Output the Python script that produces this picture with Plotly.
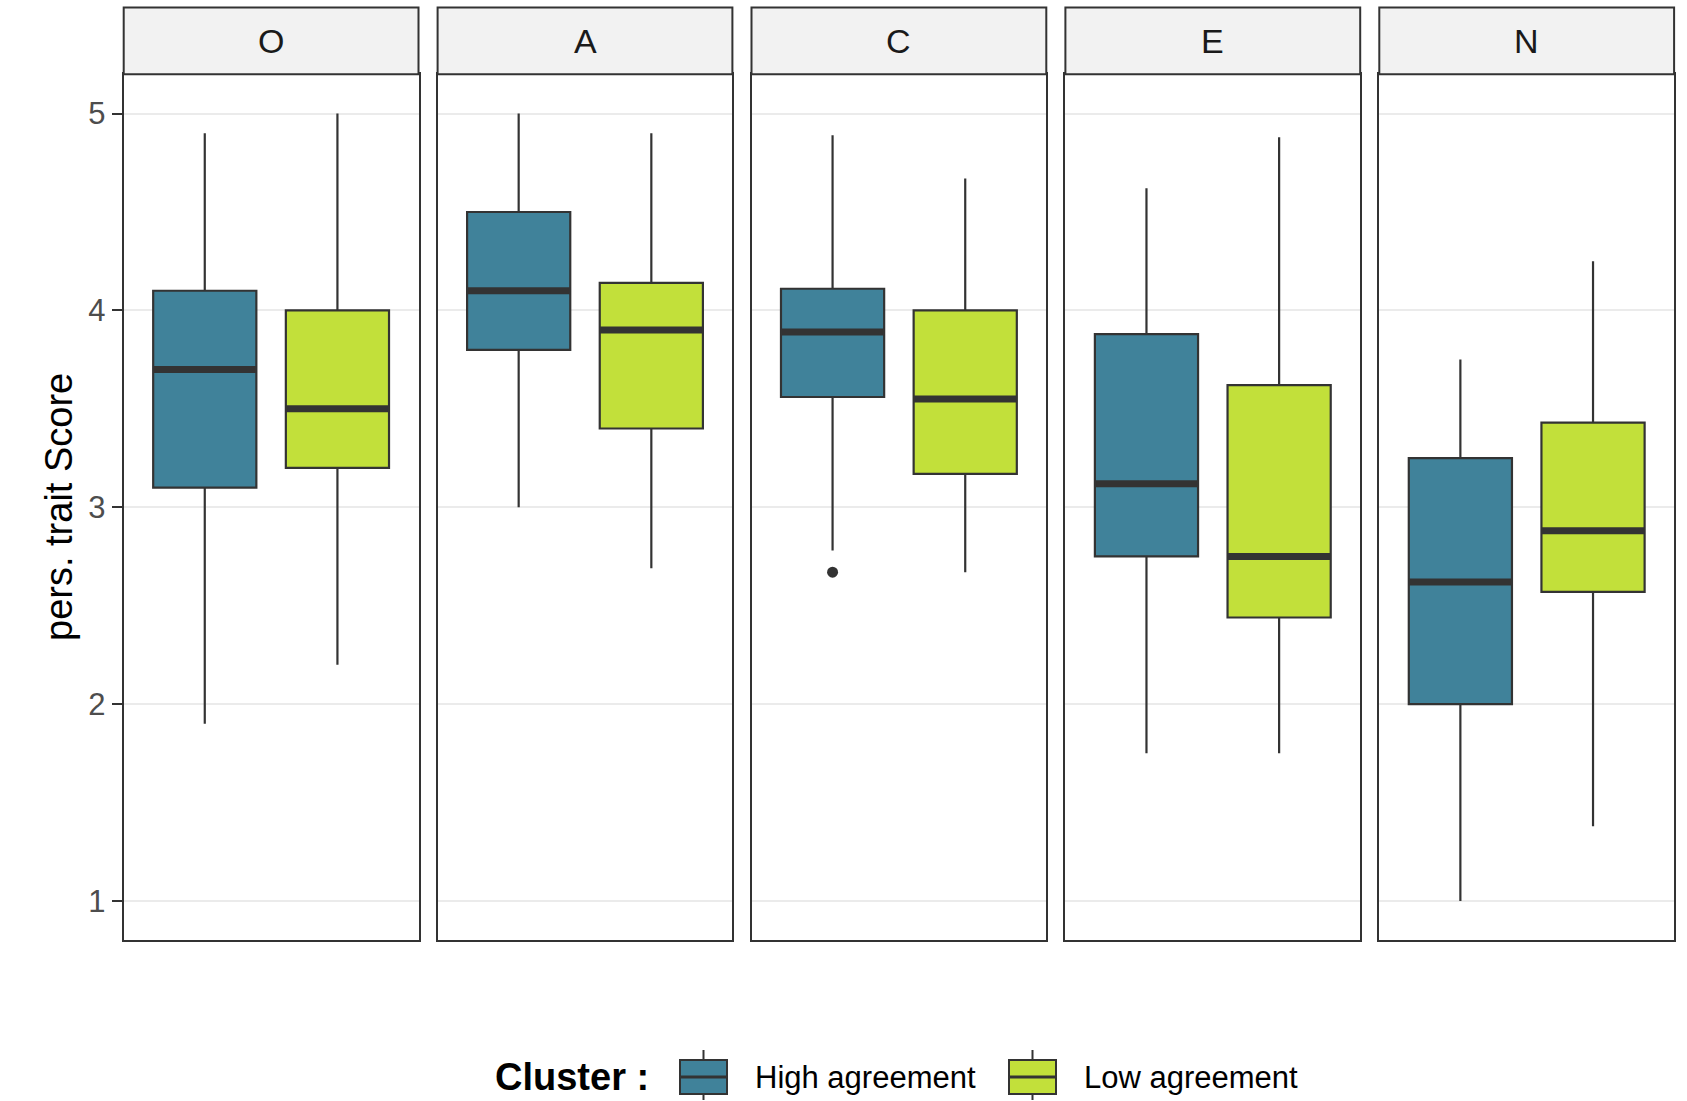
import plotly.graph_objects as go

# ---- data -------------------------------------------------------------
traits = ["O", "A", "C", "E", "N"]
clusters = ["High agreement", "Low agreement"]

high_lower = [1.90, 3.00, 2.78, 1.75, 1.00]
high_q1 = [3.10, 3.80, 3.56, 2.75, 2.00]
high_median = [3.70, 4.10, 3.89, 3.12, 2.62]
high_q3 = [4.10, 4.50, 4.11, 3.88, 3.25]
high_upper = [4.90, 5.00, 4.89, 4.62, 3.75]
high_outliers = [[], [], [2.67], [], []]

low_lower = [2.20, 2.69, 2.67, 1.75, 1.38]
low_q1 = [3.20, 3.40, 3.17, 2.44, 2.57]
low_median = [3.50, 3.90, 3.55, 2.75, 2.88]
low_q3 = [4.00, 4.14, 4.00, 3.62, 3.43]
low_upper = [5.00, 4.90, 4.67, 4.88, 4.25]
low_outliers = [[], [], [], [], []]

y_ticks = [1, 2, 3, 4, 5]

# ---- styling ----------------------------------------------------------
W, H = 1687, 1101
FONT = "Liberation Sans, Arial, sans-serif"
fills = {"High agreement": "#40829A", "Low agreement": "#C2E03A"}
dark = "#333333"
positions = {"High agreement": 0.275, "Low agreement": 0.725}
box_w = 0.35

panel_left0, panel_w, panel_gap = 123.7, 294.8, 19.1
panel_top, panel_bottom = 74.2, 940.3
strip_top = 7.5


def px_x(v):
    return v / W


def px_y(v):
    return 1 - v / H


stats = {
    "High agreement": (high_lower, high_q1, high_median, high_q3, high_upper, high_outliers),
    "Low agreement": (low_lower, low_q1, low_median, low_q3, low_upper, low_outliers),
}

fig = go.Figure()
layout = {}
shapes = []
annotations = []

for i, trait in enumerate(traits):
    n = "" if i == 0 else str(i + 1)
    xa, ya = "x" + n, "y" + n
    left = panel_left0 + i * (panel_w + panel_gap)
    right = left + panel_w

    for cl in clusters:
        lo, q1, med, q3, up, outl = stats[cl]
        pos = positions[cl]
        fig.add_trace(go.Box(
            x=[pos], q1=[q1[i]], median=[med[i]], q3=[q3[i]],
            lowerfence=[lo[i]], upperfence=[up[i]],
            width=box_w, whiskerwidth=0, boxpoints=False,
            fillcolor=fills[cl], line=dict(color=dark, width=2.2),
            xaxis=xa, yaxis=ya, showlegend=False, hoverinfo="skip",
        ))
        # thick median bar
        fig.add_trace(go.Scatter(
            x=[pos - box_w / 2, pos + box_w / 2], y=[med[i], med[i]],
            mode="lines", line=dict(color=dark, width=7),
            xaxis=xa, yaxis=ya, showlegend=False, hoverinfo="skip",
        ))
        if outl[i]:
            fig.add_trace(go.Scatter(
                x=[pos] * len(outl[i]), y=outl[i], mode="markers",
                marker=dict(color=dark, size=11),
                xaxis=xa, yaxis=ya, showlegend=False, hoverinfo="skip",
            ))

    layout["xaxis" + n] = dict(
        domain=[px_x(left), px_x(right)], range=[0, 1], anchor=ya,
        showgrid=False, zeroline=False, showticklabels=False, ticks="",
        showline=True, mirror=True, linecolor=dark, linewidth=2,
        fixedrange=True,
    )
    layout["yaxis" + n] = dict(
        domain=[px_y(panel_bottom), px_y(panel_top)], range=[0.8, 5.2],
        anchor=xa, tickvals=y_ticks, showgrid=True, gridcolor="#EBEBEB",
        gridwidth=2, zeroline=False, showline=True, mirror=True,
        linecolor=dark, linewidth=2, fixedrange=True,
        showticklabels=(i == 0), ticks="outside" if i == 0 else "",
        ticklen=10, tickwidth=2, tickcolor=dark,
        tickfont=dict(family=FONT, size=31, color="#4D4D4D"),
    )

    # facet strip
    shapes.append(dict(
        type="rect", xref="paper", yref="paper",
        x0=px_x(left), x1=px_x(right), y0=px_y(panel_top), y1=px_y(strip_top),
        fillcolor="#F2F2F2", line=dict(color=dark, width=2), layer="above",
    ))
    annotations.append(dict(
        text=trait, xref="paper", yref="paper",
        x=px_x((left + right) / 2), y=px_y((strip_top + panel_top) / 2),
        showarrow=False, font=dict(family=FONT, size=34, color="#1A1A1A"),
        xanchor="center", yanchor="middle",
    ))

# y-axis title
annotations.append(dict(
    text="pers. trait Score", xref="paper", yref="paper",
    x=px_x(59), y=px_y(507), textangle=-90, showarrow=False,
    font=dict(family=FONT, size=38, color="#000000"),
    xanchor="center", yanchor="middle",
))

# legend
leg_y = 1077
annotations.append(dict(
    text="<b>Cluster :</b>", xref="paper", yref="paper",
    x=px_x(493), y=px_y(leg_y), showarrow=False, xanchor="left",
    yanchor="middle", font=dict(family=FONT, size=38, color="#000000"),
))
key_x = {"High agreement": 680, "Low agreement": 1009}
key_w = 47
for cl in clusters:
    x0 = key_x[cl]
    x1 = x0 + key_w
    xc = (x0 + x1) / 2
    shapes.append(dict(type="line", xref="paper", yref="paper",
                       x0=px_x(xc), x1=px_x(xc), y0=px_y(1050), y1=px_y(1100),
                       line=dict(color=dark, width=2)))
    shapes.append(dict(type="rect", xref="paper", yref="paper",
                       x0=px_x(x0), x1=px_x(x1), y0=px_y(1094), y1=px_y(1060),
                       fillcolor=fills[cl], line=dict(color=dark, width=2)))
    shapes.append(dict(type="line", xref="paper", yref="paper",
                       x0=px_x(x0), x1=px_x(x1), y0=px_y(leg_y), y1=px_y(leg_y),
                       line=dict(color=dark, width=3)))
    annotations.append(dict(
        text=cl, xref="paper", yref="paper",
        x=px_x(x1 + 26), y=px_y(leg_y), showarrow=False, xanchor="left",
        yanchor="middle", font=dict(family=FONT, size=31, color="#000000"),
    ))

fig.update_layout(
    width=W, height=H, margin=dict(l=0, r=0, t=0, b=0),
    paper_bgcolor="white", plot_bgcolor="white",
    showlegend=False, shapes=shapes, annotations=annotations,
    **layout,
)

fig.write_html("out.html")
